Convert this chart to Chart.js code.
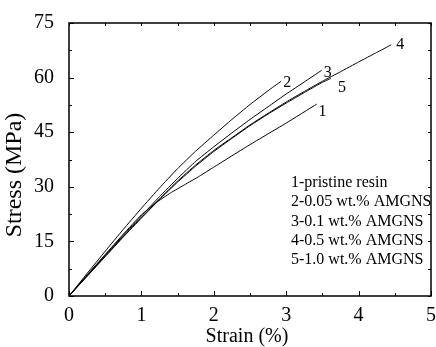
<!DOCTYPE html>
<html><head><meta charset="utf-8">
<script src="https://cdn.jsdelivr.net/npm/chart.js@4.4.0/dist/chart.umd.min.js"></script>
<style>html,body{margin:0;padding:0;background:#fff;}#wrap{width:436px;height:347px;}</style>
</head><body><div id="wrap"><canvas id="c" width="436" height="347"></canvas></div>
<script>
const xTicks = [0, 1, 2, 3, 4, 5];
const yTicks = [0, 15, 30, 45, 60, 75];
const curveNames = ["1", "2", "3", "4", "5"];
const legendLabels = ["1-pristine resin", "2-0.05 wt.% AMGNS", "3-0.1 wt.% AMGNS", "4-0.5 wt.% AMGNS", "5-1.0 wt.% AMGNS"];

const strain1 = [0, 0.25, 0.5, 0.75, 1.0, 1.2, 1.4, 1.6, 1.8, 2.0, 2.5, 3.0, 3.42];
const stress1 = [0, 5.8, 11.4, 17.0, 22.3, 25.6, 28.3, 30.6, 32.9, 35.4, 41.6, 47.5, 52.7];
const strain2 = [0, 0.25, 0.5, 0.75, 1.0, 1.25, 1.5, 1.75, 2.0, 2.25, 2.5, 2.75, 2.93];
const stress2 = [0, 6.2, 12.3, 18.3, 24.1, 29.7, 35.0, 39.8, 44.2, 48.5, 52.6, 56.4, 59.0];
const strain3 = [0, 0.25, 0.5, 0.75, 1.0, 1.25, 1.5, 1.75, 2.0, 2.25, 2.5, 2.75, 3.0, 3.25, 3.49];
const stress3 = [0, 5.6, 11.2, 16.7, 22.0, 27.3, 32.3, 37.0, 41.0, 44.8, 48.5, 52.0, 55.5, 58.8, 62.0];
const strain4 = [0, 0.25, 0.5, 0.75, 1.0, 1.25, 1.5, 1.75, 2.0, 2.25, 2.5, 2.75, 3.0, 3.25, 3.5, 3.75, 4.0, 4.25, 4.45];
const stress4 = [0, 5.5, 11.0, 16.4, 21.6, 26.7, 31.6, 36.0, 40.0, 43.5, 47.0, 50.2, 53.3, 56.2, 59.0, 61.6, 64.3, 66.9, 69.0];
const strain5 = [0, 0.25, 0.5, 0.75, 1.0, 1.25, 1.5, 1.75, 2.0, 2.25, 2.5, 2.75, 3.0, 3.25, 3.5, 3.62];
const stress5 = [0, 5.4, 10.8, 16.2, 21.4, 26.5, 31.3, 35.7, 39.7, 43.3, 46.8, 50.0, 53.0, 55.9, 58.7, 59.8];

const strains = [strain1, strain2, strain3, strain4, strain5];
const stresses = [stress1, stress2, stress3, stress4, stress5];
const labelOffsets = [[6, 8], [6, 2], [6, 2], [9, 0], [11, 9]];

const FONT = "'Liberation Serif', 'Times New Roman', serif";

const datasets = strains.map((s, i) => ({
  label: curveNames[i],
  data: s.map((x, j) => ({x: x, y: stresses[i][j]})),
  showLine: true, borderColor: '#000', borderWidth: 1, pointRadius: 0, fill: false, tension: 0.1
}));

const decor = {
  id: 'decor',
  afterDraw(chart) {
    const ctx = chart.ctx, xs = chart.scales.x, ys = chart.scales.y, a = chart.chartArea;
    ctx.save();
    ctx.strokeStyle = '#000'; ctx.lineWidth = 1.5;
    ctx.strokeRect(a.left, a.top, a.right - a.left, a.bottom - a.top);
    ctx.lineWidth = 1;
    for (let v = 0; v <= 5.001; v += 0.5) {
      const px = Math.round(xs.getPixelForValue(v)) + 0.5;
      const major = Math.abs(v - Math.round(v)) < 1e-6;
      const L = major ? 5 : 3;
      ctx.beginPath(); ctx.moveTo(px, a.bottom); ctx.lineTo(px, a.bottom - L); ctx.stroke();
      ctx.beginPath(); ctx.moveTo(px, a.top); ctx.lineTo(px, a.top + 3); ctx.stroke();
    }
    for (let v = 0; v <= 75.001; v += 7.5) {
      const py = Math.round(ys.getPixelForValue(v)) + 0.5;
      const major = Math.abs(v / 15 - Math.round(v / 15)) < 1e-6;
      const L = major ? 5 : 3;
      ctx.beginPath(); ctx.moveTo(a.left, py); ctx.lineTo(a.left + L, py); ctx.stroke();
      ctx.beginPath(); ctx.moveTo(a.right, py); ctx.lineTo(a.right - 3, py); ctx.stroke();
    }
    ctx.fillStyle = '#000';
    ctx.font = '16px ' + FONT; ctx.textAlign = 'center'; ctx.textBaseline = 'middle';
    strains.forEach((s, i) => {
      const px = xs.getPixelForValue(s[s.length - 1]) + labelOffsets[i][0];
      const py = ys.getPixelForValue(stresses[i][s.length - 1]) + labelOffsets[i][1];
      ctx.fillText(curveNames[i], px, py);
    });
    ctx.textAlign = 'left'; ctx.font = '16px ' + FONT;
    legendLabels.forEach((t, i) => ctx.fillText(t, 291, 183 + i * 19.2));
    ctx.font = '20px ' + FONT; ctx.textAlign = 'center';
    ctx.fillText('Strain (%)', 247, 337);
    ctx.font = '24px ' + FONT;
    ctx.translate(15, 175); ctx.rotate(-Math.PI / 2);
    ctx.fillText('Stress (MPa)', 0, 0);
    ctx.restore();
  }
};

new Chart(document.getElementById('c'), {
  type: 'scatter',
  data: {datasets},
  options: {
    responsive: false, animation: false, devicePixelRatio: 1,
    layout: {padding: {left: 0, top: 23, right: 3, bottom: 0}},
    plugins: {legend: {display: false}, tooltip: {enabled: false}},
    scales: {
      x: {type: 'linear', min: 0, max: 5,
        afterBuildTicks: s => { s.ticks = xTicks.map(v => ({value: v})); },
        afterFit: s => { s.height = 51; },
        grid: {display: false}, border: {display: false},
        ticks: {color: '#000', font: {family: FONT, size: 20}, padding: 0, maxRotation: 0, autoSkip: false}},
      y: {type: 'linear', min: 0, max: 75,
        afterBuildTicks: s => { s.ticks = yTicks.map(v => ({value: v})); },
        afterFit: s => { s.width = 69; },
        grid: {display: false}, border: {display: false},
        ticks: {color: '#000', font: {family: FONT, size: 20}, padding: 7, autoSkip: false}}
    }
  },
  plugins: [decor]
});
</script></body></html>
